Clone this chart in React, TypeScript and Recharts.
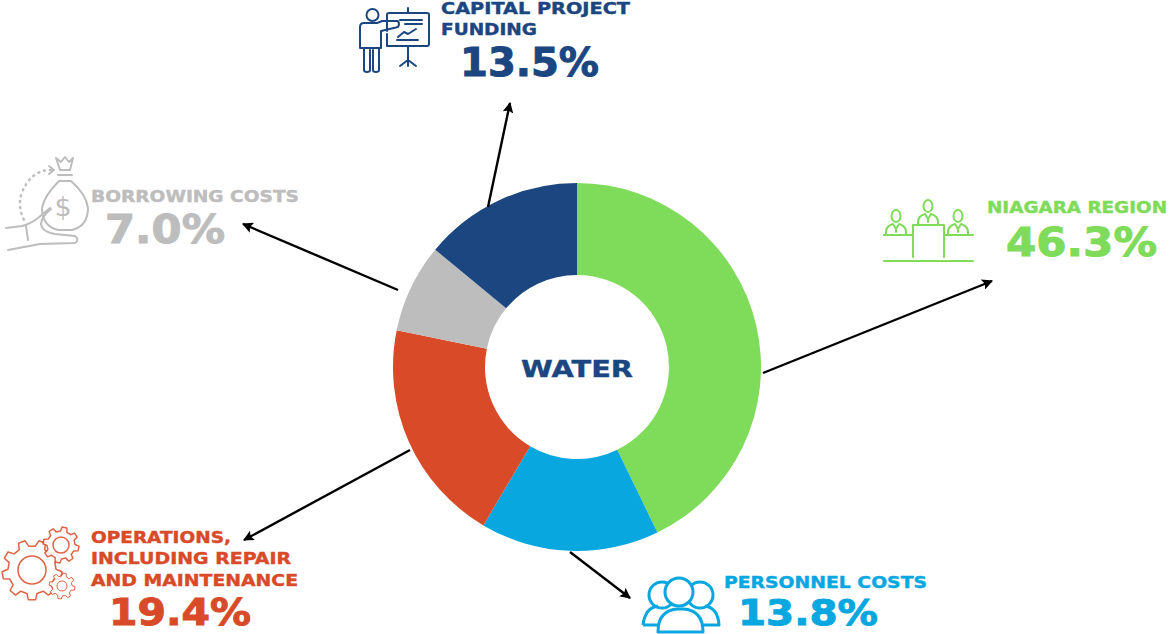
import React from "react";
import { PieChart, Pie, Cell } from "recharts";

const categories = ["Niagara Region", "Personnel Costs", "Operations", "Borrowing Costs", "Capital Project Funding"];
const sliceValues = [42.8, 15.7, 19.7, 7.8, 14.0];
const sliceColors = ["#7FDB5A", "#08A7E0", "#D94A28", "#BDBDBD", "#1C4680"];
const printedValues = ["46.3%", "13.8%", "19.4%", "7.0%", "13.5%"];
const centerLabel = "WATER";

const chartData = categories.map((name, i) => ({ name, value: sliceValues[i] }));

const FONT = "'DejaVu Sans', sans-serif";
const [GREEN, BLUE, RED, GREY, NAVY] = sliceColors;

function T({ x, y, w, size, color, children }: any) {
  return (
    <text x={x} y={y} fontFamily={FONT} fontWeight={700} fontSize={size} fill={color}
      stroke={color} strokeWidth={size > 30 ? 1 : 0.4}
      textLength={w} lengthAdjust="spacingAndGlyphs">{children}</text>
  );
}

function Arrow({ x1, y1, x2, y2 }: any) {
  return <line x1={x1} y1={y1} x2={x2} y2={y2} stroke="#000" strokeWidth={2.4} markerEnd="url(#ah)" />;
}

function gearPath(cx: number, cy: number, ro: number, ri: number, teeth: number) {
  const pts: string[] = [];
  const step = (Math.PI * 2) / teeth;
  for (let i = 0; i < teeth; i++) {
    const a = i * step + step / 4;
    const seq: [number, number][] = [
      [ri, a - step * 0.3], [ro, a - step * 0.17], [ro, a + step * 0.17], [ri, a + step * 0.3],
    ];
    seq.forEach(([r, t]) => pts.push(`${(cx + r * Math.cos(t)).toFixed(1)},${(cy + r * Math.sin(t)).toFixed(1)}`));
  }
  return "M" + pts.join("L") + "Z";
}

function Gear({ cx, cy, ro, ri, rc, teeth, w }: any) {
  return (
    <g fill="#fff" stroke={RED} strokeWidth={w} strokeLinejoin="round" opacity={0.85}>
      <path d={gearPath(cx, cy, ro, ri, teeth)} />
      <circle cx={cx} cy={cy} r={rc} />
    </g>
  );
}

function Speaker({ x, y }: any) {
  return (
    <g transform={`translate(${x},${y})`}>
      <ellipse cx={0} cy={-13} rx={4.5} ry={6} />
      <path d="M-10,6 V3 Q-10,-3 -3,-5 L0,0 L3,-5 Q10,-3 10,3 V6" />
      <path d="M0,0 V3" />
    </g>
  );
}

function Icons() {
  return (
    <>
      {/* capital project: presenter */}
      <g fill="none" stroke={NAVY} strokeWidth={2} strokeLinejoin="round" strokeLinecap="round">
        <circle cx={372.5} cy={15} r={6} />
        <path d="M398,21 H382 Q380,22 377,23 H364 Q360,23 360,27 V48 H381 V31 L398,27 Q400,24 398,21Z" />
        <path d="M364,48 V70 Q364,72 367,72 Q370,72 370,70 V50 M373,50 V70 Q373,72 376,72 Q379,72 379,70 V48" />
        <path d="M387,31 V15 Q387,13 389,13 H427 Q429,13 429,15 V44 Q429,46 427,46 H387 V34" />
        <path d="M408,8 V13 M408,46 V66 M408,60 L400,66 M408,60 L416,66" />
        <path d="M400,20 H422 M405,24 H422 M397,40 H418 M398,37 L404,32 L408,34 L416,29" />
      </g>
      {/* niagara region: council */}
      <g fill="none" stroke={GREEN} strokeWidth={2} strokeLinejoin="round" strokeLinecap="round">
        <Speaker x={896} y={229} />
        <Speaker x={928} y={219} />
        <Speaker x={958} y={229} />
        <path d="M913,257 V225 H944 V257" />
        <path d="M884,235 H912 M945,235 H973 M884,261 H973" />
      </g>
      {/* borrowing: money bag and hand */}
      <g fill="none" stroke={GREY} strokeWidth={2} strokeLinejoin="round" strokeLinecap="round">
        <path d="M56,158 L61,162 L65,157 L69,162 L73,158 L70,170 H60 Z M58,175 H72" />
        <path d="M59,181 Q44,196 42,208 Q42,226 58,230 H72 Q88,226 88,208 Q86,194 71,181 Z" />
        <text x={63} y={216} fontFamily={FONT} fontSize={27} fill={GREY} stroke="none" textAnchor="middle">$</text>
        <path d="M51,209 Q42,216 41,224 Q42,232 55,234 L75,236 Q80,240 75,243 L40,244 L8,250 M22,226 L6,228 M26,226 L28,240 M22,226 Q30,224 38,218 L50,208" />
        <path d="M51,170 Q30,170 21,195 Q18,208 24,220" strokeDasharray="1 5" strokeWidth={2.5} />
        <path d="M49,166 L54,170 L49,174" />
      </g>
      {/* operations: gears */}
      <Gear cx={32} cy={570} ro={30} ri={24} rc={14} teeth={9} w={1.5} />
      <Gear cx={61} cy={545} ro={18} ri={14} rc={8} teeth={8} w={1.5} />
      <Gear cx={62} cy={586} ro={13} ri={10} rc={5} teeth={8} w={1} />
      {/* personnel: people */}
      <g fill="none" stroke={BLUE} strokeWidth={3} strokeLinejoin="round">
        <circle cx={662} cy={595} r={13} />
        <circle cx={700} cy={595} r={13} />
        <path d="M643,625 Q645,608 658,606 M705,606 Q718,608 719,625 H700 M643,625 H660" />
        <circle cx={679} cy={592} r={14} fill="#fff" />
        <path d="M658,632 Q658,610 678,609 H683 Q703,610 703,632 Z" fill="#fff" />
      </g>
    </>
  );
}

function Overlay() {
  return (
    <svg width={1170} height={634} style={{ position: "absolute", left: 0, top: 0 }}>
      <defs>
        <marker id="ah" viewBox="0 0 10 10" refX="9" refY="5" markerWidth="4.5" markerHeight="4.5" orient="auto">
          <path d="M0,0 L10,5 L0,10 L2,5Z" fill="#000" />
        </marker>
      </defs>
      <Arrow x1={763} y1={373} x2={992} y2={281} />
      <Arrow x1={488} y1={207} x2={510} y2={103} />
      <Arrow x1={398} y1={290} x2={243} y2={224} />
      <Arrow x1={410} y1={450} x2={244} y2={540} />
      <Arrow x1={570} y1={552} x2={630} y2={598} />
      <Icons />
      <T x={521} y={377} w={112} size={23} color={NAVY}>{centerLabel}</T>

      <T x={441} y={14} w={189} size={15} color={NAVY}>CAPITAL PROJECT</T>
      <T x={441} y={35} w={96} size={15} color={NAVY}>FUNDING</T>
      <T x={460} y={76} w={139} size={39} color={NAVY}>{printedValues[4]}</T>

      <T x={91} y={202} w={208} size={15} color={GREY}>BORROWING COSTS</T>
      <T x={105} y={243} w={120} size={39} color={GREY}>{printedValues[3]}</T>

      <T x={987} y={213} w={180} size={15} color={GREEN}>NIAGARA REGION</T>
      <T x={1006} y={256} w={151} size={39} color={GREEN}>{printedValues[0]}</T>

      <T x={91} y={543} w={140} size={15} color={RED}>OPERATIONS,</T>
      <T x={91} y={564} w={200} size={15} color={RED}>INCLUDING REPAIR</T>
      <T x={91} y={586} w={207} size={15} color={RED}>AND MAINTENANCE</T>
      <T x={109} y={625} w={142} size={37} color={RED}>{printedValues[2]}</T>

      <T x={724} y={588} w={203} size={15} color={BLUE}>PERSONNEL COSTS</T>
      <T x={738} y={625} w={140} size={36} color={BLUE}>{printedValues[1]}</T>
    </svg>
  );
}

export default function App() {
  return (
    <div style={{ position: "absolute", left: 0, top: 0, width: 1170, height: 634, background: "#fff", overflow: "hidden" }}>
      <PieChart width={1170} height={634} margin={{ top: 0, right: 0, bottom: 0, left: 0 }}>
        <Pie data={chartData} dataKey="value" nameKey="name" cx={577} cy={367} innerRadius={92} outerRadius={184}
          startAngle={90} endAngle={-270} stroke="none" isAnimationActive={false}>
          {chartData.map((d, i) => <Cell key={d.name} fill={sliceColors[i]} />)}
        </Pie>
      </PieChart>
      <Overlay />
    </div>
  );
}
